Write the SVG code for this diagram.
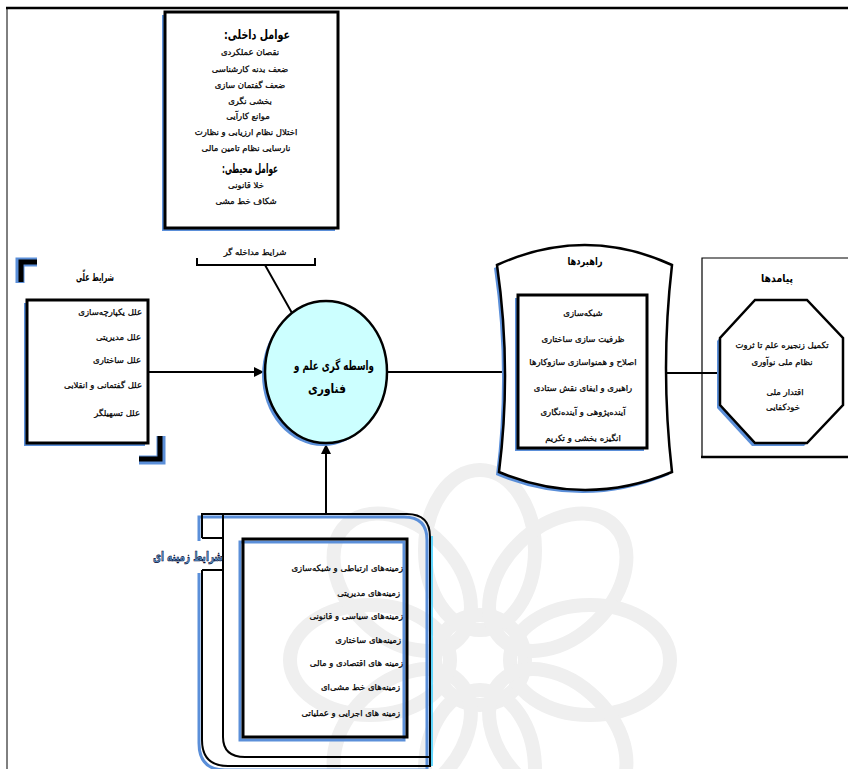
<svg xmlns="http://www.w3.org/2000/svg" width="848" height="769" viewBox="0 0 848 769">
<defs>
<style>
text{font-family:"DejaVu Sans",sans-serif;fill:#000}
.t{font-size:8.5px;stroke:#000;stroke-width:0.25}
.h{font-size:13px;font-weight:bold}
.ti{font-size:11px;font-weight:bold}
.rtl{direction:rtl}
.box{fill:#fff;stroke:#000;stroke-width:3}
.sh{fill:#5b8fd9;stroke:none}
.ln{stroke:#000;stroke-width:2;fill:none}
.wm{fill:none;stroke:#efefef;stroke-width:14}
</style>
<marker id="ah" viewBox="0 0 10 10" refX="10" refY="5" markerWidth="10" markerHeight="10" markerUnits="userSpaceOnUse" orient="auto">
<path d="M0,0 L10,5 L0,10 Z" fill="#000"/>
</marker>
</defs>
<rect width="848" height="769" fill="#fff"/>
<g id="watermark">
<circle class="wm" cx="480" cy="660" r="45"/>
<g transform="translate(480,660)">
<ellipse class="wm" cx="0" cy="-110" rx="55" ry="80"/>
<ellipse class="wm" cx="0" cy="-110" rx="55" ry="80" transform="rotate(45)"/>
<ellipse class="wm" cx="0" cy="-110" rx="55" ry="80" transform="rotate(90)"/>
<ellipse class="wm" cx="0" cy="-110" rx="55" ry="80" transform="rotate(135)"/>
<ellipse class="wm" cx="0" cy="-110" rx="55" ry="80" transform="rotate(180)"/>
<ellipse class="wm" cx="0" cy="-110" rx="55" ry="80" transform="rotate(225)"/>
<ellipse class="wm" cx="0" cy="-110" rx="55" ry="80" transform="rotate(270)"/>
<ellipse class="wm" cx="0" cy="-110" rx="55" ry="80" transform="rotate(315)"/>
</g>
</g>
<g id="frame">
<line x1="6" y1="8" x2="848" y2="8" stroke="#000" stroke-width="2.5"/>
<line x1="7" y1="8" x2="7" y2="769" stroke="#000" stroke-width="1"/>
</g>
<g id="connectors">
<line class="ln" x1="148" y1="372" x2="264" y2="372" marker-end="url(#ah)"/>
<line class="ln" x1="388" y1="372" x2="517" y2="372" marker-end="url(#ah)"/>
<line class="ln" x1="647" y1="373" x2="721" y2="373"/>
<line class="ln" x1="326" y1="514" x2="326" y2="444" marker-end="url(#ah)"/>
<line class="ln" x1="265" y1="265" x2="292" y2="313"/>
</g>
<g id="internal-factors">
<rect class="sh" x="162" y="15" width="173" height="216"/>
<rect class="box" x="165" y="12" width="173" height="216"/>
<text class="h rtl" x="257" y="39" text-anchor="middle" textLength="66" lengthAdjust="spacingAndGlyphs">عوامل داخلی:</text>
<text class="t" x="250" y="55" text-anchor="middle">نقصان عملکردی</text>
<text class="t" x="250" y="72" text-anchor="middle">ضعف بدنه کارشناسی</text>
<text class="t" x="250" y="88" text-anchor="middle">ضعف گفتمان سازی</text>
<text class="t" x="250" y="104" text-anchor="middle">بخشی نگری</text>
<text class="t" x="248" y="119" text-anchor="middle">موانع کارآیی</text>
<text class="t" x="246" y="135" text-anchor="middle">اختلال نظام ارزیابی و نظارت</text>
<text class="t" x="246" y="151" text-anchor="middle">نارسایی نظام تامین مالی</text>
<text class="h rtl" x="250" y="173" text-anchor="middle" textLength="56" lengthAdjust="spacingAndGlyphs">عوامل محیطی:</text>
<text class="t" x="246" y="188" text-anchor="middle">خلا قانونی</text>
<text class="t" x="246" y="204" text-anchor="middle">شکاف خط مشی</text>
</g>
<g id="intervening">
<path d="M197,258 V265 H315 V258" class="ln"/>
<text class="t" x="255" y="255" text-anchor="middle">شرایط مداخله گر</text>
</g>
<g id="causal">
<path d="M20,283 V262 H37" fill="none" stroke="#5b8fd9" stroke-width="9"/>
<path d="M21,282 V262 H37" fill="none" stroke="#000" stroke-width="5"/>
<path d="M139,460 H161 V436" fill="none" stroke="#5b8fd9" stroke-width="9"/>
<path d="M139,459 H160 V436" fill="none" stroke="#000" stroke-width="5"/>
<text class="ti" x="95" y="281" text-anchor="middle" textLength="38" lengthAdjust="spacingAndGlyphs">شرایط علّی</text>
<rect class="sh" x="24" y="303" width="121" height="143"/>
<rect class="box" x="27" y="300" width="121" height="143"/>
<text class="t" x="142" y="315" text-anchor="end">علل یکپارچه‌سازی</text>
<text class="t" x="141" y="340" text-anchor="end">علل مدیریتی</text>
<text class="t" x="141" y="363" text-anchor="end">علل ساختاری</text>
<text class="t" x="142" y="388" text-anchor="end">علل گفتمانی و انقلابی</text>
<text class="t" x="140" y="416" text-anchor="end">علل تسهیلگر</text>
</g>
<g id="core">
<ellipse cx="323" cy="375" rx="61" ry="71" fill="#5b8fd9"/>
<ellipse cx="326" cy="372" rx="61" ry="71" fill="#ccffff" stroke="#000" stroke-width="2.5"/>
<text class="h" x="334" y="370" text-anchor="middle" textLength="80" lengthAdjust="spacingAndGlyphs">واسطه گری علم و</text>
<text class="h" x="327" y="393" text-anchor="middle" textLength="38" lengthAdjust="spacingAndGlyphs">فناوری</text>
</g>
<g id="strategies">
<path d="M494,268 Q582,228 669,268 Q657,371 669,475 Q582,511 496,475 Q509,371 494,268 Z" fill="#5b8fd9"/>
<path d="M497,265 Q585,225 672,265 Q660,368 672,472 Q585,508 499,472 Q512,368 497,265 Z" fill="#fff" stroke="#000" stroke-width="2.5"/>
<text class="ti" x="585" y="265" text-anchor="middle" textLength="35" lengthAdjust="spacingAndGlyphs">راهبردها</text>
<rect class="sh" x="515" y="298" width="129" height="153"/>
<rect class="box" x="518" y="295" width="129" height="153"/>
<text class="t" x="583" y="316" text-anchor="middle">شبکه‌سازی</text>
<text class="t" x="583" y="342" text-anchor="middle">ظرفیت سازی ساختاری</text>
<text class="t" x="583" y="365" text-anchor="middle">اصلاح و همنواسازی سازوکارها</text>
<text class="t" x="583" y="391" text-anchor="middle">راهبری و ایفای نقش ستادی</text>
<text class="t" x="583" y="415" text-anchor="middle">آینده‌پژوهی و آینده‌نگاری</text>
<text class="t" x="583" y="441" text-anchor="middle">انگیزه بخشی و تکریم</text>
</g>
<g id="outcomes">
<path d="M848,258 H702 V457" fill="none" stroke="#000" stroke-width="1.2"/>
<line x1="701" y1="457" x2="848" y2="457" stroke="#000" stroke-width="2.5"/>
<text class="ti" x="777" y="282" text-anchor="middle" textLength="32" lengthAdjust="spacingAndGlyphs">پیامدها</text>
<polygon points="752,303 804,303 840,341 840,408 804,446 752,446 717,408 717,341" fill="#5b8fd9"/>
<polygon points="755,300 807,300 843,338 843,405 807,443 755,443 720,405 720,338" fill="#fff" stroke="#000" stroke-width="2.5"/>
<text class="t" x="782" y="348" text-anchor="middle">تکمیل زنجیره علم تا ثروت</text>
<text class="t" x="782" y="365" text-anchor="middle">نظام ملی نوآوری</text>
<text class="t" x="785" y="395" text-anchor="middle">اقتدار ملی</text>
<text class="t" x="783" y="410" text-anchor="middle">خودکفایی</text>
</g>
<g id="context">
<path d="M199,541 V517 H404 Q427,517 427,540 V770 H225 Q199,770 199,743 V573" fill="none" stroke="#5b8fd9" stroke-width="3"/>
<line x1="432" y1="536" x2="432" y2="766" stroke="#33ccff" stroke-width="1.5"/>
<path d="M202,538 V514 H407 Q430,514 430,537 V766 H228 Q202,766 202,740 V570" fill="none" stroke="#000" stroke-width="2"/>
<path d="M202,538 H223 M202,570 H223" stroke="#000" stroke-width="2"/>
<path d="M223,514 V737 Q223,757 245,757 H430" fill="none" stroke="#000" stroke-width="2"/>
<rect x="240" y="542" width="164" height="198" fill="none" stroke="#5b8fd9" stroke-width="3"/>
<rect x="243" y="539" width="164" height="198" fill="none" stroke="#000" stroke-width="3"/>
<text x="188" y="561" text-anchor="middle" textLength="70" lengthAdjust="spacingAndGlyphs" style="font-size:13px;font-weight:bold;fill:#5b9bd5;stroke:#0a0a30;stroke-width:0.7">شرایط زمینه ای</text>
<text class="t" x="403" y="571" text-anchor="end">زمینه‌های ارتباطی و شبکه‌سازی</text>
<text class="t" x="400" y="596" text-anchor="end">زمینه‌های مدیریتی</text>
<text class="t" x="403" y="619" text-anchor="end">زمینه‌های سیاسی و قانونی</text>
<text class="t" x="401" y="643" text-anchor="end">زمینه‌های ساختاری</text>
<text class="t" x="403" y="666" text-anchor="end">زمینه های اقتصادی و مالی</text>
<text class="t" x="400" y="690" text-anchor="end">زمینه‌های خط مشی‌ای</text>
<text class="t" x="400" y="716" text-anchor="end">زمینه های اجرایی و عملیاتی</text>
</g>
</svg>
